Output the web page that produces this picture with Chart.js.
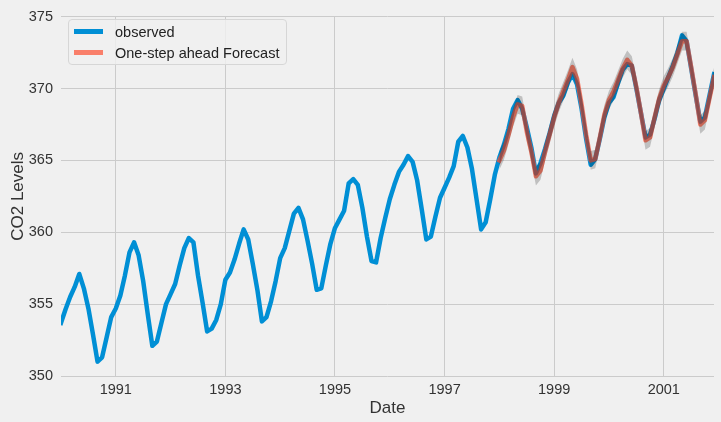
<!DOCTYPE html>
<html>
<head>
<meta charset="utf-8">
<script src="https://cdn.jsdelivr.net/npm/chart.js@4.4.1/dist/chart.umd.min.js"></script>
<style>
  html, body { margin: 0; padding: 0; background: #f0f0f0; }
  #wrap { position: relative; width: 721px; height: 422px; background: #f0f0f0; }
  #legend {
    position: absolute; left: 68px; top: 19px; width: 219px; height: 46px;
    border: 1px solid #d6d6d6; border-radius: 4px; background: rgba(240,240,240,0.8);
    font-family: 'Liberation Sans', Arial, sans-serif; font-size: 14.5px; color: #222;
    box-sizing: border-box;
  }
  .item { position: absolute; left: 0; height: 18px; line-height: 18px; white-space: nowrap; }
  .sw { position: absolute; left: 5px; top: 6px; width: 29px; height: 5px; }
  .lbl { position: absolute; left: 46px; top: 0; }
</style>
</head>
<body>
<div id="wrap">
  <canvas id="c" width="721" height="422"></canvas>
  <div id="legend">
    <div class="item" style="top:3px;"><div class="sw" style="background:#008fd5;"></div><span class="lbl">observed</span></div>
    <div class="item" style="top:24px;"><div class="sw" style="background:rgba(252,79,48,0.7);"></div><span class="lbl">One-step ahead Forecast</span></div>
  </div>
</div>
<script>
// Monthly CO2 observations (ppm), Jan..Dec of each year
const obs1990 = [353.7, 354.65, 355.5, 356.2, 357.1, 356.1, 354.7, 352.9, 351.0, 351.3, 352.7, 354.1];
const obs1991 = [354.7, 355.6, 357.0, 358.6, 359.3, 358.4, 356.6, 354.3, 352.1, 352.4, 353.7, 355.0];
const obs1992 = [355.7, 356.4, 357.7, 358.9, 359.6, 359.3, 357.0, 355.1, 353.1, 353.3, 353.9, 355.0];
const obs1993 = [356.7, 357.2, 358.1, 359.2, 360.2, 359.5, 357.8, 356.0, 353.8, 354.1, 355.2, 356.6];
const obs1994 = [358.2, 358.9, 360.1, 361.3, 361.7, 360.9, 359.4, 357.8, 356.0, 356.1, 357.7, 359.2];
const obs1995 = [360.3, 360.9, 361.5, 363.4, 363.7, 363.3, 361.7, 359.7, 358.0, 357.9, 359.6, 361.0];
const obs1996 = [362.3, 363.3, 364.2, 364.7, 365.3, 364.9, 363.6, 361.6, 359.5, 359.7, 361.1, 362.4];
const obs1997 = [363.1, 363.8, 364.6, 366.3, 366.7, 365.9, 364.4, 362.3, 360.2, 360.7, 362.3, 364.0];
const obs1998 = [365.2, 366.1, 367.2, 368.6, 369.2, 368.6, 367.3, 365.9, 364.1, 364.8, 365.8, 366.9];
const obs1999 = [368.1, 369.0, 369.5, 370.4, 371.0, 370.3, 368.6, 366.5, 364.7, 365.1, 366.5, 368.0];
const obs2000 = [369.0, 369.4, 370.4, 371.3, 371.7, 371.6, 370.0, 368.3, 366.6, 366.8, 367.9, 369.2];
const obs2001 = [370.0, 370.8, 371.6, 372.5, 373.7, 373.3, 371.4, 369.5, 367.7, 368.0, 369.5, 371.0];

// One-step ahead forecast from 1998-01
const fc1998 = [365.0, 365.7, 366.8, 368.0, 368.9, 368.8, 367.0, 365.6, 363.9, 364.3, 365.6, 366.8];
const fc1999 = [368.0, 369.0, 369.8, 370.6, 371.5, 370.7, 368.9, 366.8, 365.0, 365.1, 366.6, 368.2];
const fc2000 = [369.2, 369.8, 370.6, 371.4, 372.0, 371.6, 370.1, 368.3, 366.4, 366.6, 368.0, 369.3];
const fc2001 = [370.2, 370.8, 371.5, 372.4, 373.3, 373.3, 371.5, 369.6, 367.5, 367.8, 369.3, 370.8];

// Confidence interval bounds of the forecast
const ciLower = [364.35, 365.05, 366.15, 367.35, 368.25, 368.15, 366.35, 364.95, 363.25, 363.65, 364.95, 366.15,
                 367.35, 368.35, 369.15, 369.95, 370.85, 370.05, 368.25, 366.15, 364.35, 364.45, 365.95, 367.55,
                 368.55, 369.15, 369.95, 370.75, 371.35, 370.95, 369.45, 367.65, 365.75, 365.95, 367.35, 368.65,
                 369.55, 370.15, 370.85, 371.75, 372.65, 372.65, 370.85, 368.95, 366.85, 367.15, 368.65, 370.15];
const ciUpper = [365.65, 366.35, 367.45, 368.65, 369.55, 369.45, 367.65, 366.25, 364.55, 364.95, 366.25, 367.45,
                 368.65, 369.65, 370.45, 371.25, 372.15, 371.35, 369.55, 367.45, 365.65, 365.75, 367.25, 368.85,
                 369.85, 370.45, 371.25, 372.05, 372.65, 372.25, 370.75, 368.95, 367.05, 367.25, 368.65, 369.95,
                 370.85, 371.45, 372.15, 373.05, 373.95, 373.95, 372.15, 370.25, 368.15, 368.45, 369.95, 371.45];

const startYear = 1990;
const forecastStartIndex = 96; // 1998-01
const xTickYears = [1991, 1993, 1995, 1997, 1999, 2001];
const yTicks = [350, 355, 360, 365, 370, 375];

const observed = [].concat(obs1990, obs1991, obs1992, obs1993, obs1994, obs1995,
                           obs1996, obs1997, obs1998, obs1999, obs2000, obs2001);
const forecast = [].concat(fc1998, fc1999, fc2000, fc2001);

const obsPts = observed.map((v, i) => ({x: i, y: v}));
const fcPts = forecast.map((v, i) => ({x: forecastStartIndex + i, y: v}));
const loPts = ciLower.map((v, i) => ({x: forecastStartIndex + i, y: v}));
const upPts = ciUpper.map((v, i) => ({x: forecastStartIndex + i, y: v}));

const FONT = "'Liberation Sans', Arial, sans-serif";
const TXT = '#333333';

new Chart(document.getElementById('c'), {
  type: 'line',
  data: {
    datasets: [
      { label: 'observed', data: obsPts, borderColor: '#008fd5', borderWidth: 4.5,
        pointRadius: 0, tension: 0, fill: false, order: 3, borderJoinStyle: 'round', borderCapStyle: 'square' },
      { label: 'One-step ahead Forecast', data: fcPts, borderColor: 'rgba(252,79,48,0.7)', borderWidth: 4.5,
        pointRadius: 0, tension: 0, fill: false, order: 2, borderJoinStyle: 'round', borderCapStyle: 'square' },
      { label: 'lower', data: loPts, borderWidth: 0, borderColor: 'rgba(0,0,0,0)',
        pointRadius: 0, tension: 0, fill: false, order: 1 },
      { label: 'upper', data: upPts, borderWidth: 0, borderColor: 'rgba(0,0,0,0)',
        backgroundColor: 'rgba(0,0,0,0.2)', pointRadius: 0, tension: 0, fill: '-1', order: 0 }
    ]
  },
  options: {
    responsive: false,
    animation: false,
    devicePixelRatio: 1,
    layout: { padding: { left: 0, right: 7, top: 14, bottom: 0 } },
    plugins: { legend: { display: false }, tooltip: { enabled: false } },
    scales: {
      x: {
        type: 'linear',
        min: 0, max: observed.length - 1,
        afterBuildTicks: (s) => { s.ticks = xTickYears.map(y => ({value: (y - startYear) * 12})); },
        afterFit: (s) => { s.height = 46; },
        ticks: { color: TXT, font: { family: FONT, size: 14.5 }, padding: 5, maxRotation: 0,
                 callback: (v) => String(startYear + Math.round(v / 12)) },
        grid: { color: '#cbcbcb', lineWidth: 1, drawTicks: false },
        border: { display: false },
        title: { display: true, text: 'Date', color: TXT, font: { family: FONT, size: 17 }, padding: { top: 0, bottom: 3 } }
      },
      y: {
        type: 'linear',
        min: 350, max: 375,
        afterBuildTicks: (s) => { s.ticks = yTicks.map(v => ({value: v})); },
        afterFit: (s) => { s.width = 61; },
        ticks: { color: TXT, font: { family: FONT, size: 14.5 }, padding: 8 },
        grid: { color: '#cbcbcb', lineWidth: 1, drawTicks: false },
        border: { display: false },
        title: { display: true, text: 'CO2 Levels', color: TXT, font: { family: FONT, size: 17 }, padding: { top: 8, bottom: 0 } }
      }
    }
  }
});
</script>
</body>
</html>
